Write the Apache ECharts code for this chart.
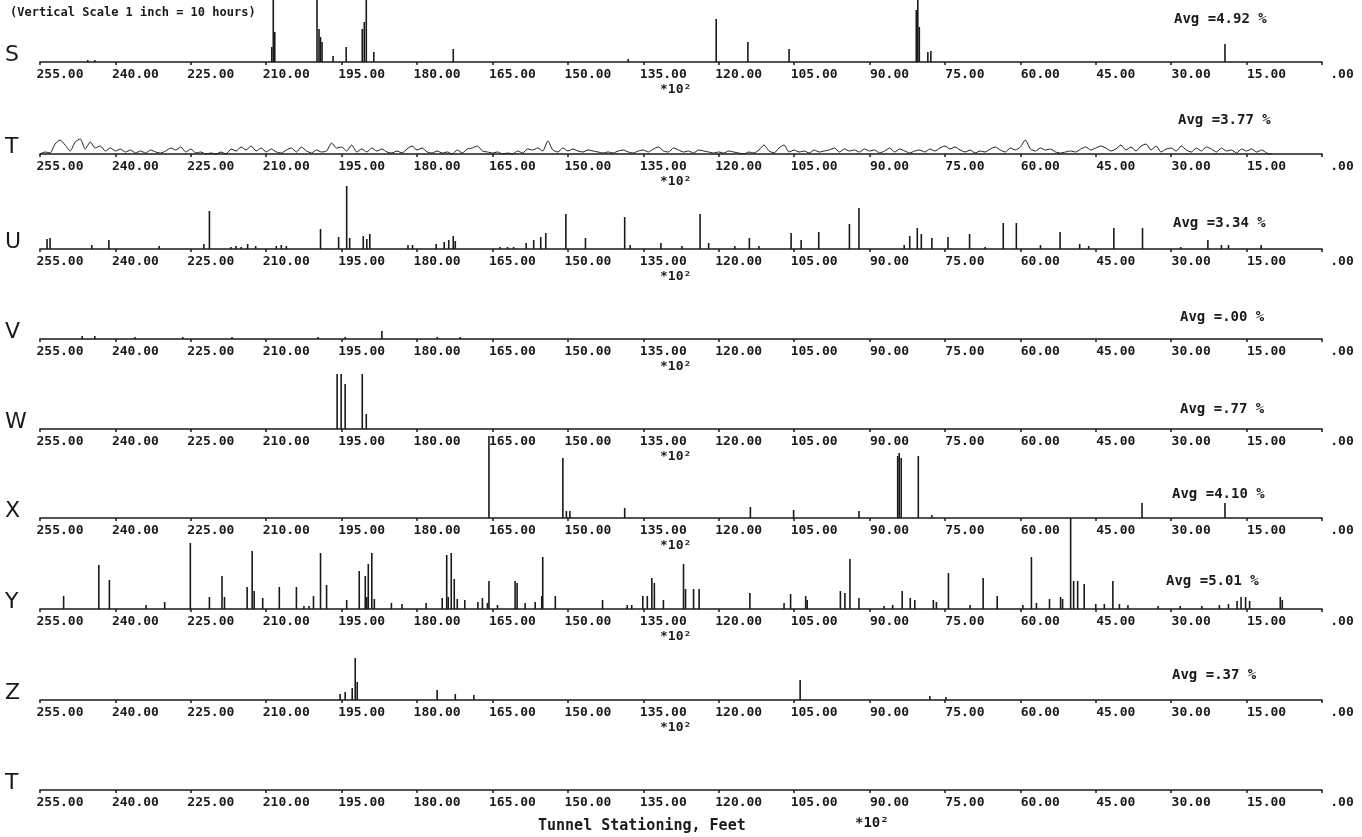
<!DOCTYPE html>
<html>
<head>
<meta charset="utf-8">
<script src="https://cdn.jsdelivr.net/npm/echarts@6/dist/echarts.min.js"></script>
<style>
  html, body { margin: 0; padding: 0; background: #fff; }
  #chart { width: 1362px; height: 837px; }
</style>
</head>
<body>
<div id="chart"></div>
<script>
// tunnel stationing (x 10^2 ft) and bar heights for each strip
const tickLabels = [255, 240, 225, 210, 195, 180, 165, 150, 135, 120, 105, 90, 75, 60, 45, 30, 15, 0];

const sPos = [245.5, 244.1, 208.9, 208.6, 208.3, 199.9, 199.5, 199.2, 198.9, 196.7, 194.1, 190.9, 190.5, 190.1, 188.6, 172.8, 138.0, 120.5, 114.2, 106.0, 80.7, 80.4, 80.1, 78.4, 77.8, 19.3];
const sVal = [2, 2, 15, 62, 30, 62, 33, 25, 20, 6, 15, 33, 40, 64, 10, 13, 3, 43, 20, 13, 52, 70, 35, 10, 11, 18];

// strip T is a continuous trace, one reading per 100 ft from 255 down to 10
const tStart = 255;
const tVal = [0, 2, 1, 10, 14, 9, 3, 12, 15, 5, 12, 6, 8, 3, 6, 3, 5, 2, 4, 1, 3, 1, 4, 2, 1, 3, 6, 4, 7, 2,
  5, 1, 2, 0, 1, 0, 2, 0, 5, 3, 7, 4, 8, 3, 6, 2, 5, 2, 1, 4, 6, 2, 7, 3, 1, 4, 2, 3, 11, 6,
  7, 3, 9, 2, 5, 2, 6, 3, 5, 2, 1, 3, 1, 5, 8, 4, 6, 2, 1, 3, 1, 2, 0, 4, 1, 5, 6, 8, 3, 2,
  1, 2, 0, 1, 0, 3, 1, 5, 4, 6, 3, 13, 4, 2, 6, 3, 5, 3, 2, 4, 3, 2, 1, 2, 1, 3, 4, 2, 1, 3,
  4, 2, 5, 7, 3, 2, 6, 4, 2, 3, 1, 4, 3, 2, 1, 2, 1, 3, 2, 1, 0, 2, 1, 4, 9, 3, 1, 6, 9, 2,
  4, 2, 3, 1, 4, 2, 3, 4, 6, 2, 5, 3, 4, 2, 5, 3, 4, 1, 3, 6, 2, 5, 3, 1, 3, 4, 2, 5, 3, 6,
  8, 5, 7, 4, 2, 4, 1, 3, 2, 5, 7, 4, 2, 6, 4, 7, 14, 5, 3, 6, 4, 5, 2, 1, 2, 3, 2, 5, 7, 4,
  6, 8, 6, 3, 5, 9, 4, 7, 3, 8, 10, 4, 8, 2, 5, 6, 3, 8, 4, 2, 6, 3, 7, 5, 2, 6, 3, 4, 1, 5,
  3, 5, 2, 4, 1, 0];

const uPos = [253.6, 253.0, 244.7, 241.3, 231.3, 222.4, 221.3, 217.0, 216.0, 215.0, 213.7, 212.1, 208.0, 207.0, 206.0,
  199.2, 195.6, 194.0, 193.4, 190.7, 190.0, 189.4, 181.8, 180.9, 176.2, 174.6, 173.7, 172.8, 172.4,
  163.5, 162.0, 160.8, 158.3, 156.8, 155.4, 154.4, 150.4, 146.5, 138.7, 137.6, 131.5, 127.3,
  123.7, 122.0, 116.8, 113.9, 112.0, 105.6, 103.6, 100.1, 94.0, 92.1, 83.1, 82.0, 80.5, 79.7, 77.6,
  74.4, 70.1, 67.0, 63.4, 60.8, 56.0, 52.1, 48.2, 46.4, 41.4, 35.7, 28.1, 22.7, 20.0, 18.6, 12.1];
const uVal = [10, 11, 4, 9, 3, 5, 38, 2, 3, 2, 5, 3, 3, 4, 3,
  20, 12, 63, 11, 13, 10, 15, 4, 4, 5, 7, 9, 13, 8,
  2, 2, 2, 6, 9, 12, 16, 35, 11, 32, 4, 6, 3,
  35, 6, 3, 11, 3, 16, 9, 17, 25, 41, 4, 13, 21, 15, 11,
  12, 15, 2, 26, 26, 4, 17, 5, 3, 21, 21, 2, 9, 4, 4, 4];

const vPos = [246.6, 244.1, 236.1, 226.6, 216.8, 199.7, 194.3, 187.0, 176.0, 171.4];
const vVal = [3, 3, 2, 2, 2, 2, 2, 8, 2, 2];

const wPos = [195.9, 195.1, 194.3, 190.9, 190.1];
const wVal = [55, 55, 45, 55, 15];

const xPos = [165.7, 151.0, 150.3, 149.6, 138.7, 113.7, 105.1, 92.1, 84.4, 84.1, 83.7, 80.3, 77.6, 35.8, 19.3];
const xVal = [82, 60, 7, 7, 10, 11, 8, 7, 62, 65, 60, 62, 3, 15, 15];

const yPos = [250.3, 243.3, 241.2, 233.9, 230.2, 225.1, 221.3, 218.8, 218.3, 213.8, 212.8, 212.4, 210.7, 207.4, 204.0,
  202.5, 201.5, 200.6, 199.2, 198.0, 194.0, 191.5, 190.3, 190.0, 189.7, 189.0, 188.5, 185.1, 183.0, 178.2,
  175.0, 174.1, 173.8, 173.2, 172.6, 172.0, 170.5, 167.9, 167.0, 166.0, 165.7, 164.0, 160.5, 160.1, 158.5,
  156.5, 155.2, 155.0, 152.5, 143.1, 138.2, 137.3, 135.1, 134.2, 133.3, 132.8, 131.0, 127.0, 126.6, 125.0,
  123.9, 113.8, 107.0, 105.7, 102.7, 102.4, 95.8, 94.9, 93.9, 92.1, 87.1, 85.4, 83.5, 81.9, 81.0,
  77.3, 76.7, 74.3, 70.0, 67.4, 64.6, 59.5, 57.8, 56.8, 54.2, 52.0, 51.6, 50.0, 49.4, 48.6,
  47.3, 45.0, 43.3, 41.6, 40.3, 38.6, 32.6, 28.2, 23.9, 20.4, 18.6, 16.9, 16.1, 15.2, 14.4, 8.3, 7.9];
const yVal = [13, 44, 29, 4, 7, 66, 12, 33, 12, 22, 58, 18, 11, 22, 22,
  3, 3, 13, 56, 24, 9, 38, 33, 12, 45, 56, 10, 6, 5, 6,
  11, 54, 12, 56, 30, 10, 9, 7, 11, 6, 28, 4, 28, 26, 6,
  7, 13, 52, 13, 9, 4, 4, 13, 13, 31, 26, 9, 45, 20, 20,
  20, 16, 6, 15, 13, 9, 18, 16, 50, 11, 3, 4, 18, 11, 9,
  9, 7, 36, 4, 31, 13, 4, 52, 6, 10, 12, 10, 91, 28, 28,
  25, 5, 5, 28, 5, 4, 3, 3, 3, 4, 5, 8, 12, 12, 8, 12, 9];

const zPos = [195.3, 194.3, 192.9, 192.3, 191.9, 176.0, 172.4, 168.7, 103.8, 78.0, 74.8];
const zVal = [6, 8, 12, 42, 18, 10, 6, 5, 20, 4, 3];

const t2Pos = [];
const t2Val = [];

const avgLabels = ['Avg =4.92 %', 'Avg =3.77 %', 'Avg =3.34 %', 'Avg =.00 %', 'Avg =.77 %', 'Avg =4.10 %', 'Avg =5.01 %', 'Avg =.37 %', ''];
const letters = ['S', 'T', 'U', 'V', 'W', 'X', 'Y', 'Z', 'T'];

const zip = (a, b) => a.map((p, i) => [p, b[i]]);
const tData = tVal.map((v, i) => [tStart - i, v]);

const strips = [
  { data: zip(sPos, sVal), axisY: 62, avgX: 1174, avgY: 20 },
  { data: tData, axisY: 154, avgX: 1178, avgY: 121, line: true },
  { data: zip(uPos, uVal), axisY: 249, avgX: 1173, avgY: 224 },
  { data: zip(vPos, vVal), axisY: 339, avgX: 1180, avgY: 318 },
  { data: zip(wPos, wVal), axisY: 429, avgX: 1180, avgY: 410 },
  { data: zip(xPos, xVal), axisY: 518, avgX: 1172, avgY: 495 },
  { data: zip(yPos, yVal), axisY: 609, avgX: 1166, avgY: 582 },
  { data: zip(zPos, zVal), axisY: 700, avgX: 1172, avgY: 676 },
  { data: zip(t2Pos, t2Val), axisY: 790, avgX: 1172, avgY: 770 }
];

const mono = 'DejaVu Sans Mono';
const ink = '#1a1a1a';
// 1 unit of height = 1 px, strips overlap upward
const stripH = 60;

const grids = [], xAxes = [], yAxes = [], series = [], graphics = [];

strips.forEach((s, i) => {
  grids.push({ left: 40, right: 40, top: s.axisY - stripH, height: stripH, containLabel: false });
  xAxes.push({
    gridIndex: i, type: 'value', inverse: true, min: 0, max: 255, interval: 15,
    axisLine: { show: true, onZero: false, lineStyle: { color: ink, width: 1.6 } },
    axisTick: { show: true, length: 3, lineStyle: { color: ink, width: 1.5 } },
    splitLine: { show: false },
    axisLabel: {
      show: true, align: 'center', margin: 6, color: ink,
      padding: [0, 0, 0, 40],
      fontFamily: mono, fontWeight: 'bold', fontSize: 13,
      formatter: v => tickLabels.includes(v) ? (v === 0 ? '.00' : v.toFixed(2)) : ''
    }
  });
  yAxes.push({ gridIndex: i, type: 'value', min: 0, max: stripH, show: false });
  if (s.line) {
    series.push({
      type: 'line', xAxisIndex: i, yAxisIndex: i, data: s.data, symbol: 'none', smooth: 0.2,
      lineStyle: { color: ink, width: 1 }, silent: true, clip: false
    });
  } else {
    series.push({
      type: 'bar', xAxisIndex: i, yAxisIndex: i, data: s.data, barWidth: 1.6,
      itemStyle: { color: ink }, silent: true, clip: false
    });
  }
  graphics.push({
    type: 'text', left: 5, top: s.axisY - 18,
    style: { text: letters[i], font: '22px "DejaVu Sans"', fill: ink }
  });
  if (avgLabels[i]) {
    graphics.push({
      type: 'text', left: s.avgX, top: s.avgY - 8,
      style: { text: avgLabels[i], font: 'bold 14px "' + mono + '"', fill: ink }
    });
  }
  if (i < strips.length - 1) {
    graphics.push({
      type: 'text', left: 660, top: s.axisY + 21,
      style: { text: '*10²', font: 'bold 13px "' + mono + '"', fill: ink }
    });
  }
});

graphics.push({
  type: 'text', left: 10, top: 7,
  style: { text: '(Vertical Scale 1 inch = 10 hours)', font: 'bold 12px "' + mono + '"', fill: ink }
});
graphics.push({
  type: 'text', left: 538, top: 819,
  style: { text: 'Tunnel Stationing, Feet', font: 'bold 15px "' + mono + '"', fill: ink }
});
graphics.push({
  type: 'text', left: 855, top: 816,
  style: { text: '*10²', font: 'bold 14px "' + mono + '"', fill: ink }
});

const chart = echarts.init(document.getElementById('chart'));
chart.setOption({
  backgroundColor: '#ffffff',
  animation: false,
  grid: grids,
  xAxis: xAxes,
  yAxis: yAxes,
  series: series,
  graphic: graphics
});
</script>
</body>
</html>
